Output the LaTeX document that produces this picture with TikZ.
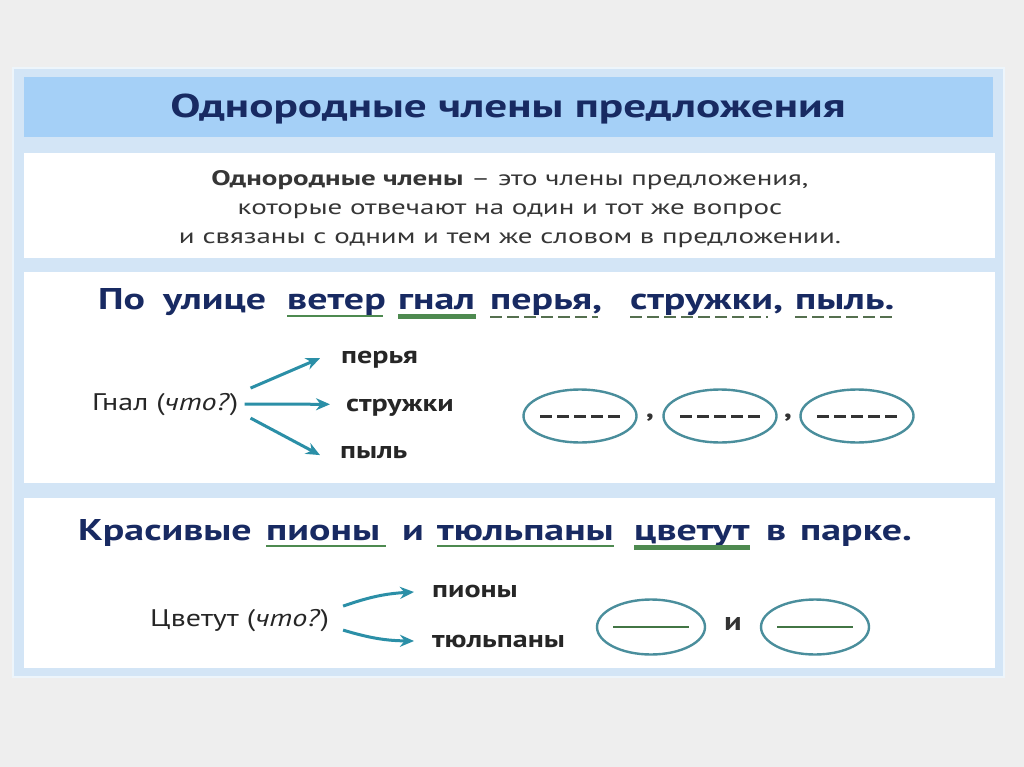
\documentclass[tikz,border=0pt]{standalone}
\usepackage{fontspec}
\setmainfont{PT Sans}
\newfontfamily\sentfont[FakeStretch=1.33]{PT Sans}
\newfontfamily\titlefont[FakeStretch=1.37]{PT Sans}
\newfontfamily\deffont[FakeStretch=1.38]{PT Sans}
\newfontfamily\lblfont[FakeStretch=1.25]{PT Sans}
\usetikzlibrary{arrows.meta,shapes.geometric}
\definecolor{bgc}{HTML}{EEEEEE}
\definecolor{panel}{HTML}{D3E5F6}
\definecolor{titlebar}{HTML}{A5D0F7}
\definecolor{navy}{HTML}{182A62}
\definecolor{deftxt}{HTML}{363636}
\definecolor{ulgreen}{HTML}{4E8A50}
\definecolor{dashc}{HTML}{55704F}
\definecolor{teal}{HTML}{2B8FA7}
\definecolor{ellc}{HTML}{4A8E9C}
\tikzset{
  box/.style={fill=white, draw=none},
  word/.style={inner sep=0pt, anchor=base west, font=\sentfont\fontsize{30}{32}\selectfont\bfseries, text=navy},
  lbl/.style={inner sep=0pt, anchor=base west, font=\lblfont\fontsize{24}{26}\selectfont\bfseries, text=black!85},
  qlbl/.style={inner sep=0pt, anchor=base west, font=\lblfont\fontsize{24}{26}\selectfont, text=black!85},
  arr/.style={teal, line width=3pt, -{Stealth[length=14pt,width=12pt]}},
  oval/.style={ellipse, draw=ellc, line width=2.4pt, minimum width=113pt, minimum height=53pt, inner sep=0pt},
  thinul/.style={ulgreen, line width=2.6pt},
  thickul/.style={ulgreen, line width=5pt},
  dashul/.style={dashc, line width=2.6pt, dash pattern=on 12pt off 5pt},
  indash/.style={black!80, line width=3pt, dash pattern=on 12pt off 5pt},
  solidin/.style={ulgreen!85!black, line width=2.4pt},
  sep/.style={font=\lblfont\fontsize{26}{28}\selectfont\bfseries, inner sep=0pt, text=black!80},
}
\begin{document}
\begin{tikzpicture}[x=1pt,y=-1pt]
\useasboundingbox (0,0) rectangle (1024,767);
\fill[bgc] (0,0) rectangle (1024,767);
% outer panel
\fill[panel] (12,67) rectangle (1005,678);
\draw[white!60!panel, line width=1.5pt] (13,68) rectangle (1004,677);
% title bar
\fill[titlebar] (24,77) rectangle (993,137);
\node[font=\titlefont\fontsize{33}{36}\selectfont\bfseries, text=navy, inner sep=0pt] (title) at (508,109) {Однородные члены предложения};
% definition box
\fill[box] (24,153) rectangle (995,258);
\node[font=\deffont\fontsize{21}{29}\selectfont, text=deftxt, align=center, inner sep=0pt] (def) at (510,209)
 {\textbf{Однородные члены} – это члены предложения,\\ которые отвечают на один и тот же вопрос\\ и связаны с одним и тем же словом в предложении.};
% box 2
\fill[box] (24,272) rectangle (995,483);
\node[word] (a1) at (98,309) {По};
\node[word] (a2) at (163,309) {улице};
\node[word] (a3) at (287,309) {ветер};
\node[word] (a4) at (398,309) {гнал};
\node[word] (a5) at (490,309) {перья,};
\node[word] (a6) at (630,309) {стружки,};
\node[word] (a7) at (795,309) {пыль.};
\draw[thinul] (287,316) -- (383,316);
\draw[thickul] (398,316) -- (476,316);
\draw[dashul] (490,317) -- (598,317);
\draw[dashul] (630,317) -- (768,317);
\draw[dashul] (795,317) -- (893,317);
% diagram 1
\node[qlbl] (g) at (92,410) {Гнал (\textit{что?})};
\node[lbl] (p1) at (341,363) {перья};
\node[lbl] (p2) at (346,411) {стружки};
\node[lbl] (p3) at (340,458) {пыль};
\draw[arr] ([xshift=12pt,yshift=16pt]g.east) -- ([xshift=-21pt,yshift=1pt]p1.west);
\draw[arr] ([xshift=6pt,yshift=0pt]g.east) -- ([xshift=-16pt,yshift=3pt]p2.west);
\draw[arr] ([xshift=12pt,yshift=-14pt]g.east) -- ([xshift=-20pt,yshift=-3pt]p3.west);
\node[oval] (e1) at (580,416) {};
\node[oval] (e2) at (720,416) {};
\node[oval] (e3) at (857,416) {};
\foreach \e in {e1,e2,e3} \draw[indash] ([xshift=-40pt]\e.center) -- ([xshift=40pt]\e.center);
\node[sep] (c1) at (650,418) {,};
\node[sep] (c2) at (788,418) {,};
% box 3
\fill[box] (24,498) rectangle (995,668);
\node[word] (b1) at (78,540) {Красивые};
\node[word] (b2) at (266,540) {пионы};
\node[word] (b3) at (402,540) {и};
\node[word] (b4) at (437,540) {тюльпаны};
\node[word] (b5) at (634,540) {цветут};
\node[word] (b6) at (766,540) {в};
\node[word] (b7) at (800,540) {парке.};
\draw[thinul] (266,546) -- (386,546);
\draw[thinul] (437,546) -- (614,546);
\draw[thickul] (634,547) -- (750,547);
% diagram 2
\node[qlbl] (c) at (150,626) {Цветут (\textit{что?})};
\node[lbl] (q1) at (432,597) {пионы};
\node[lbl] (q2) at (432,647) {тюльпаны};
\draw[arr] ([xshift=14pt,yshift=14pt]c.east) to[bend left=8] ([xshift=-18pt,yshift=-1pt]q1.west);
\draw[arr] ([xshift=14pt,yshift=-10pt]c.east) to[bend right=8] ([xshift=-18pt,yshift=0pt]q2.west);
\node[oval, minimum width=108pt, minimum height=55pt] (f1) at (651,627) {};
\node[oval, minimum width=108pt, minimum height=55pt] (f2) at (815,627) {};
\draw[solidin] ([xshift=-38pt]f1.center) -- ([xshift=38pt]f1.center);
\draw[solidin] ([xshift=-38pt]f2.center) -- ([xshift=38pt]f2.center);
\node[sep] (i) at (733,624) {и};
\end{tikzpicture}
\end{document}
